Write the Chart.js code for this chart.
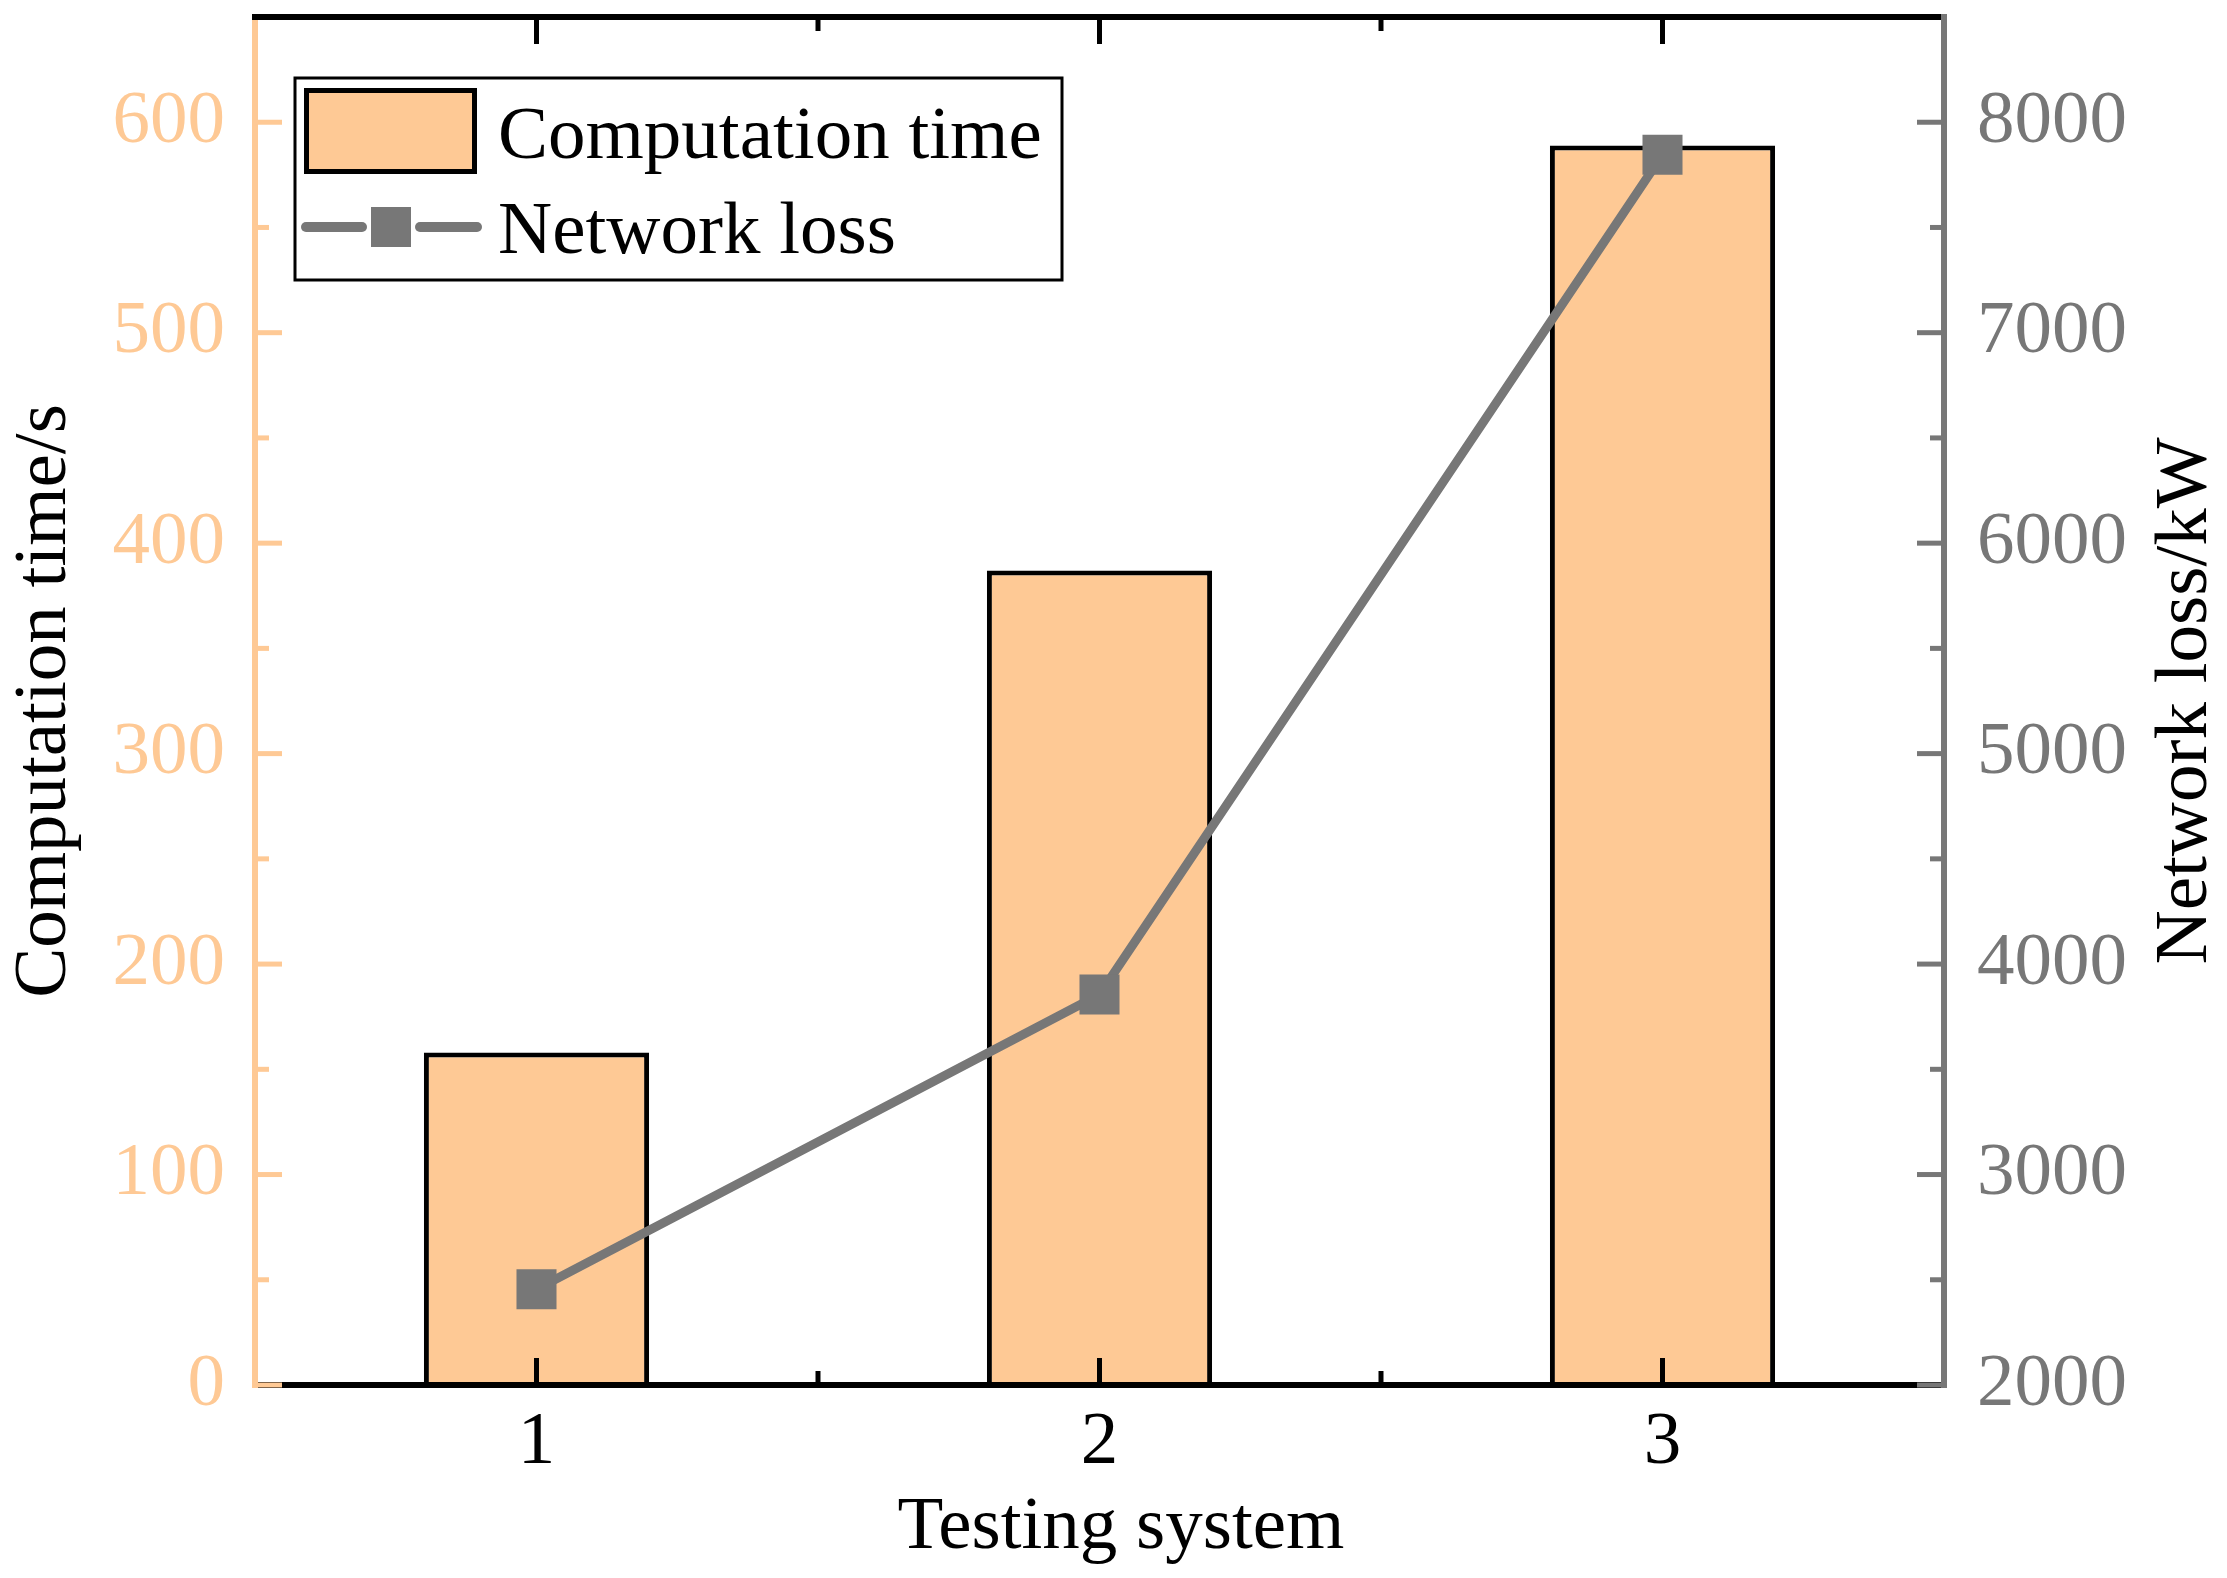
<!DOCTYPE html>
<html>
<head>
<meta charset="utf-8">
<script src="https://cdn.jsdelivr.net/npm/chart.js@4.4.1/dist/chart.umd.min.js"></script>
<style>
  html, body { margin: 0; padding: 0; background: #fff; }
</style>
</head>
<body>
<canvas id="chartSystems" width="2227" height="1578"></canvas>
<script>
const categories = ['1', '2', '3'];
const computationTime = [158, 387, 589];
const networkLoss = [2455, 3855, 7845];
const leftTicks = [0, 100, 200, 300, 400, 500, 600];
const rightTicks = [2000, 3000, 4000, 5000, 6000, 7000, 8000];

const xTitle = 'Testing system';
const leftTitle = 'Computation time/s';
const rightTitle = 'Network loss/kW';

const ORANGE = '#FEC995';
const GRAY = '#777777';
const FONT = 'Liberation Serif';

Chart.defaults.font.family = FONT;
Chart.defaults.font.size = 75;

const canvas = document.getElementById('chartSystems');
const context = canvas.getContext('2d');

const seg = (ctx, color, w, x1, y1, x2, y2) => {
    ctx.strokeStyle = color;
    ctx.lineWidth = w;
    ctx.beginPath();
    ctx.moveTo(x1, y1);
    ctx.lineTo(x2, y2);
    ctx.stroke();
};

// no extra room for half labels at the axis ends
const noPad = (scale) => {
    scale.paddingTop = 0;
    scale.paddingBottom = 0;
    scale.paddingLeft = 0;
    scale.paddingRight = 0;
};

// axes drawn by hand: ticks point inward, like the original
const framePlugin = {
    id: 'frame',
    afterDatasetsDraw(chart) {
        const { ctx, chartArea: a, scales } = chart;
        const xs = scales.x, yl = scales.y, yr = scales.y1;
        ctx.save();
        ctx.lineCap = 'butt';

        seg(ctx, '#000', 6, a.left, a.bottom, a.right, a.bottom);
        seg(ctx, '#000', 6, a.left - 3, a.top, a.right, a.top);

        for (let i = 0; i < categories.length; i++) {
            const px = xs.getPixelForValue(i);
            seg(ctx, '#000', 5, px, a.bottom, px, a.bottom - 27);
            seg(ctx, '#000', 5, px, a.top, px, a.top + 27);
            if (i < categories.length - 1) {
                const mx = (px + xs.getPixelForValue(i + 1)) / 2;
                seg(ctx, '#000', 5, mx, a.bottom, mx, a.bottom - 14);
                seg(ctx, '#000', 5, mx, a.top, mx, a.top + 14);
            }
        }

        seg(ctx, ORANGE, 6, a.left, a.top + 3, a.left, a.bottom + 3);
        leftTicks.forEach(v => {
            const py = yl.getPixelForValue(v);
            seg(ctx, ORANGE, 5, a.left, py, a.left + 27, py);
            const my = yl.getPixelForValue(v + 50);
            if (my > a.top + 5) seg(ctx, ORANGE, 5, a.left, my, a.left + 14, my);
        });

        seg(ctx, GRAY, 6, a.right, a.top - 3, a.right, a.bottom + 3);
        rightTicks.forEach(v => {
            const py = yr.getPixelForValue(v);
            seg(ctx, GRAY, 5, a.right, py, a.right - 27, py);
            const my = yr.getPixelForValue(v + 500);
            if (my > a.top + 5) seg(ctx, GRAY, 5, a.right, my, a.right - 14, my);
        });
        ctx.restore();
    }
};

// boxed legend, x title, and right title (reads bottom to top)
const legendPlugin = {
    id: 'boxLegend',
    afterDraw(chart) {
        const { ctx, chartArea: a } = chart;
        const [bars, line] = chart.data.datasets;
        ctx.save();
        ctx.strokeStyle = '#000';
        ctx.lineWidth = 3;
        ctx.strokeRect(295, 78, 767, 202);

        ctx.fillStyle = bars.backgroundColor;
        ctx.fillRect(304, 88, 173, 86);
        ctx.lineWidth = 5;
        ctx.strokeRect(306.5, 90.5, 168, 81);

        ctx.lineCap = 'round';
        seg(ctx, line.borderColor, 10, 306, 227, 362, 227);
        seg(ctx, line.borderColor, 10, 420, 227, 477, 227);
        ctx.fillStyle = line.pointBackgroundColor;
        ctx.fillRect(371, 207, 40, 40);

        ctx.fillStyle = '#000';
        ctx.font = `75px "${FONT}"`;
        ctx.textBaseline = 'alphabetic';
        ctx.textAlign = 'left';
        ctx.fillText(bars.label, 498, 158);
        ctx.fillText(line.label, 498, 253);

        ctx.textAlign = 'center';
        ctx.fillText(xTitle, 1121, 1548);

        ctx.translate(2186, (a.top + a.bottom) / 2);
        ctx.rotate(-Math.PI / 2);
        ctx.textBaseline = 'middle';
        ctx.fillText(rightTitle, 0, 0);
        ctx.restore();
    }
};

const chartSystems = new Chart(context, {
    data: {
        labels: categories,
        datasets: [
            {
                type: 'bar',
                label: 'Computation time',
                data: computationTime,
                yAxisID: 'y',
                backgroundColor: ORANGE,
                borderColor: '#000',
                borderWidth: 5,
                borderSkipped: 'bottom',
                barPercentage: 0.4,
                categoryPercentage: 1,
                order: 2
            },
            {
                type: 'line',
                label: 'Network loss',
                data: networkLoss,
                yAxisID: 'y1',
                borderColor: GRAY,
                borderWidth: 9,
                borderCapStyle: 'round',
                tension: 0,
                pointStyle: 'rect',
                pointRadius: 28.3,
                pointBackgroundColor: GRAY,
                pointBorderWidth: 0,
                order: 1
            }
        ]
    },
    options: {
        responsive: false,
        animation: false,
        devicePixelRatio: 1,
        layout: { autoPadding: false, padding: { top: 17, left: 0, right: 0, bottom: 0 } },
        plugins: {
            legend: { display: false },
            tooltip: { enabled: false }
        },
        scales: {
            x: {
                type: 'category',
                offset: true,
                grid: { display: false, drawTicks: false },
                border: { display: false },
                ticks: { color: '#000', padding: 13, font: { size: 75 } },
                afterFit: (scale) => { scale.height = 193; noPad(scale); }
            },
            y: {
                position: 'left',
                min: 0,
                max: 650,
                grid: { display: false, drawTicks: false },
                border: { display: false },
                afterBuildTicks: (scale) => { scale.ticks = leftTicks.map(v => ({ value: v })); },
                ticks: { color: ORANGE, padding: 30, font: { size: 75 } },
                title: {
                    display: true,
                    text: leftTitle,
                    color: '#000',
                    font: { size: 75 },
                    padding: { top: 0, bottom: 0 }
                },
                afterFit: (scale) => { scale.width = 255; noPad(scale); }
            },
            y1: {
                position: 'right',
                min: 2000,
                max: 8500,
                grid: { display: false, drawTicks: false },
                border: { display: false },
                afterBuildTicks: (scale) => { scale.ticks = rightTicks.map(v => ({ value: v })); },
                ticks: {
                    color: GRAY,
                    padding: 33,
                    font: { size: 75 },
                    callback: (value) => String(value)
                },
                afterFit: (scale) => { scale.width = 283; noPad(scale); }
            }
        }
    },
    plugins: [framePlugin, legendPlugin]
});
</script>
</body>
</html>
